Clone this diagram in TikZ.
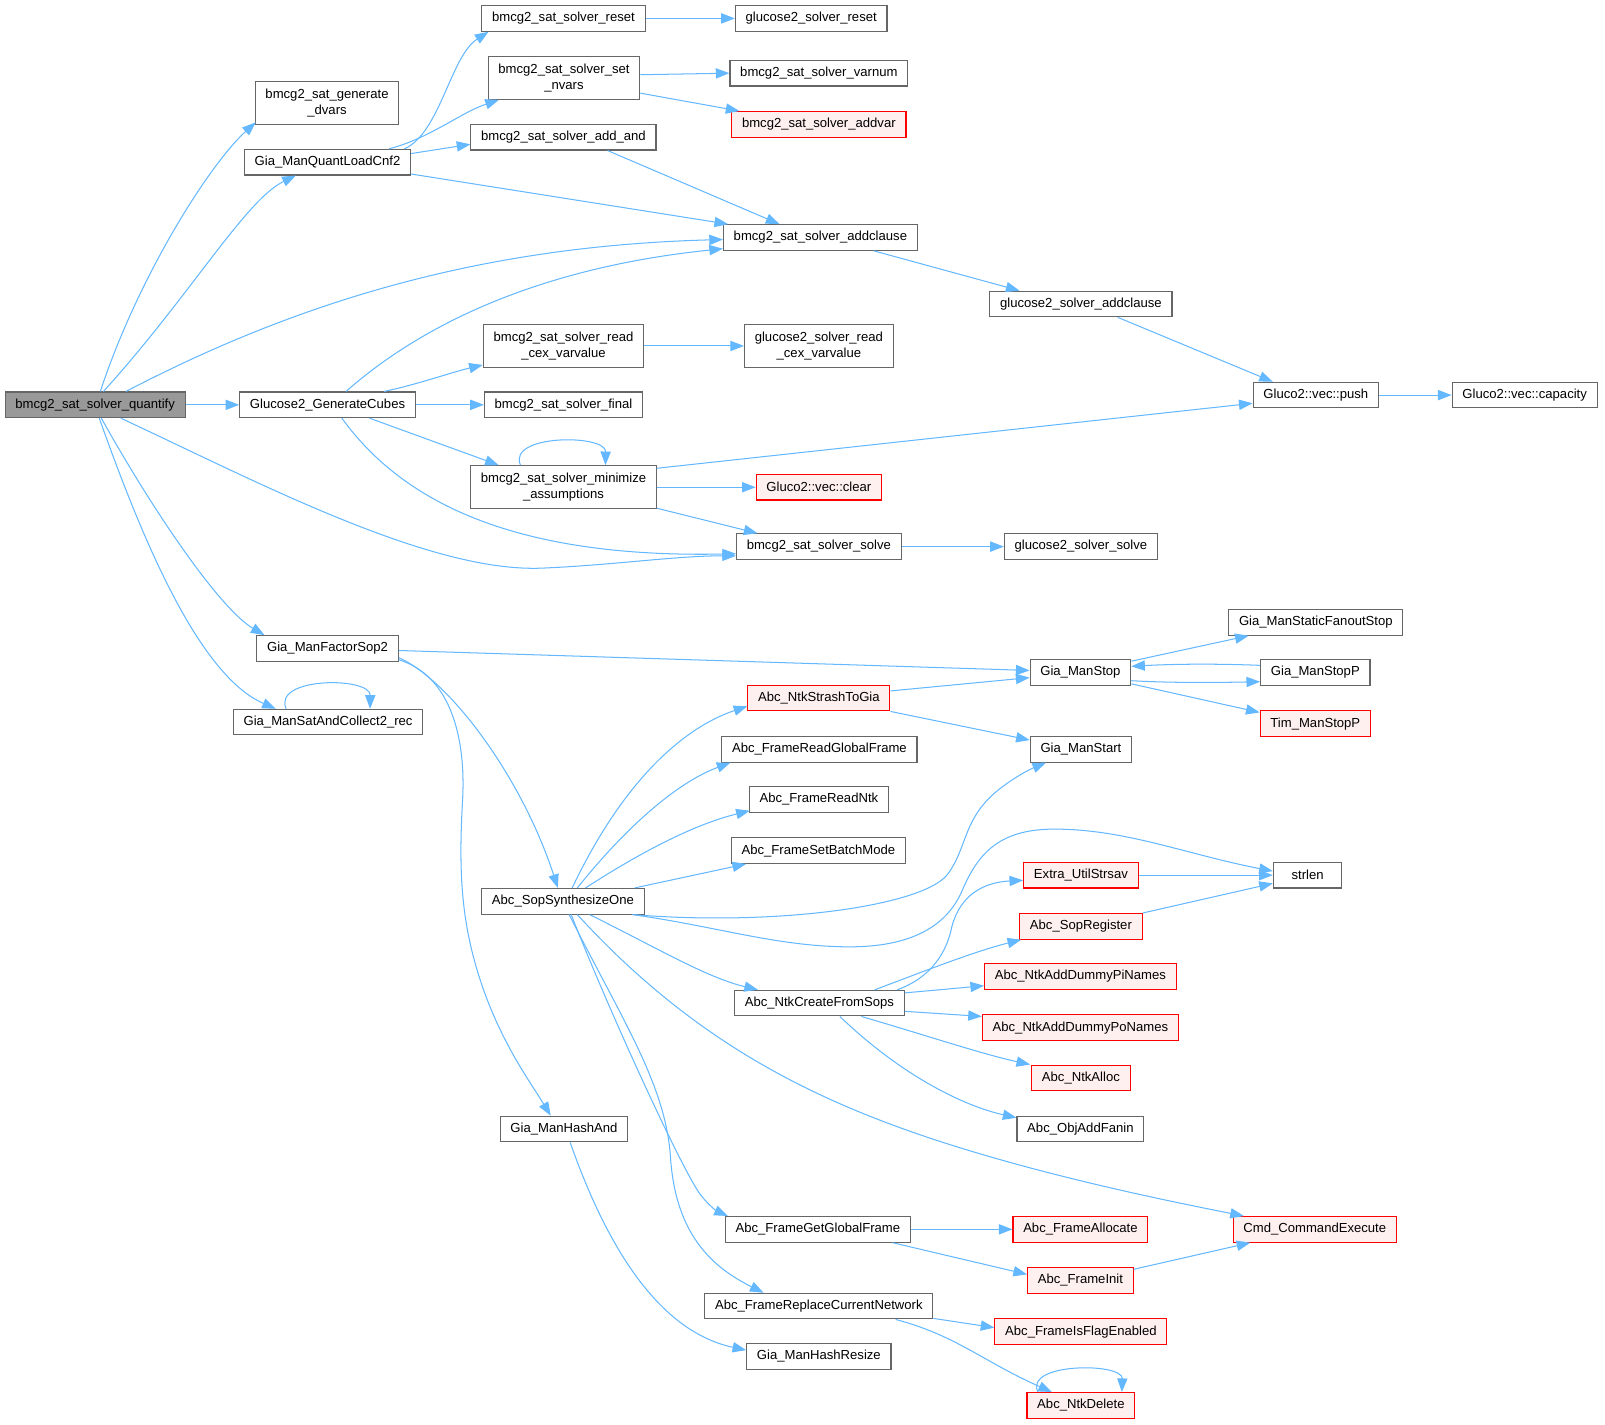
\documentclass[tikz,border=0pt]{standalone}
\usepackage{fontspec}
\setmainfont{Liberation Sans}
\usetikzlibrary{arrows.meta,calc}
\definecolor{edgeblue}{HTML}{63B8FF}
\definecolor{boxgray}{HTML}{666666}
\definecolor{rootfill}{HTML}{999999}
\definecolor{redfill}{HTML}{FFF0F0}
\definecolor{redline}{HTML}{FF0000}
\begin{document}
\begin{tikzpicture}[x=0.75pt,y=-0.75pt,
  box/.style={draw=boxgray, line width=0.8pt, fill=white, rectangle,
    font=\fontsize{9.6pt}{11.5pt}\selectfont, inner xsep=7.5pt, inner ysep=2pt,
    minimum height=18.75pt, minimum width=50.25pt, align=center},
  two/.style={minimum height=31.5pt},
  redbox/.style={box, draw=redline, fill=redfill},
  rootbox/.style={box, fill=rootfill},
  edge/.style={draw=edgeblue, line width=0.75pt, -{Triangle[length=10pt,width=7.5pt]}}]
\fill[white] (0,0) rectangle (1568,1392);
\useasboundingbox (0,0) rectangle (1568,1392);

% nodes
\node[rootbox] (q) at (93,395.5) {bmcg2\_sat\_solver\_quantify};
\node[box,two] (gdv) at (319.5,101) {bmcg2\_sat\_generate\\\_dvars};
\node[box] (qlc) at (320,158.5) {Gia\_ManQuantLoadCnf2};
\node[box] (rst) at (550.5,18) {bmcg2\_sat\_solver\_reset};
\node[box,two] (snv) at (551,76) {bmcg2\_sat\_solver\_set\\\_nvars};
\node[box] (aand) at (550.5,134) {bmcg2\_sat\_solver\_add\_and};
\node[box] (grst) at (792.5,18) {glucose2\_solver\_reset};
\node[box] (vnum) at (800,71.5) {bmcg2\_sat\_solver\_varnum};
\node[redbox] (avar) at (800,121.5) {bmcg2\_sat\_solver\_addvar};
\node[box] (acl) at (801.5,232) {bmcg2\_sat\_solver\_addclause};
\node[box] (gacl) at (1056,297) {glucose2\_solver\_addclause};
\node[box,two] (rcex) at (550.5,338) {bmcg2\_sat\_solver\_read\\\_cex\_varvalue};
\node[box,two] (grcex) at (800,338) {glucose2\_solver\_read\\\_cex\_varvalue};
\node[box] (gc) at (320,395.5) {Glucose2\_GenerateCubes};
\node[box] (fin) at (550.5,395.5) {bmcg2\_sat\_solver\_final};
\node[box] (push) at (1285.5,386) {Gluco2::vec::push};
\node[box] (cap) at (1489.5,386) {Gluco2::vec::capacity};
\node[box,two] (mina) at (550.5,476) {bmcg2\_sat\_solver\_minimize\\\_assumptions};
\node[redbox] (clr) at (800,476) {Gluco2::vec::clear};
\node[box] (solve) at (800,534) {bmcg2\_sat\_solver\_solve};
\node[box] (gsolve) at (1056,534) {glucose2\_solver\_solve};
\node[box] (fsop) at (320,633.5) {Gia\_ManFactorSop2};
\node[box] (sac) at (320.5,705.5) {Gia\_ManSatAndCollect2\_rec};
\node[box] (sfs) at (1285.5,608) {Gia\_ManStaticFanoutStop};
\node[box] (mstop) at (1055.5,657) {Gia\_ManStop};
\node[box] (mstopp) at (1285,657) {Gia\_ManStopP};
\node[redbox] (tim) at (1285,707) {Tim\_ManStopP};
\node[redbox] (strash) at (800,682) {Abc\_NtkStrashToGia};
\node[box] (mstart) at (1056,732) {Gia\_ManStart};
\node[box] (rgf) at (800.5,732) {Abc\_FrameReadGlobalFrame};
\node[box] (rntk) at (800,781) {Abc\_FrameReadNtk};
\node[box] (sbm) at (799.5,831) {Abc\_FrameSetBatchMode};
\node[box] (sop) at (550,880.5) {Abc\_SopSynthesizeOne};
\node[box] (strlen) at (1277.5,855) {strlen};
\node[redbox] (strsav) at (1056,855) {Extra\_UtilStrsav};
\node[redbox] (sreg) at (1056,905) {Abc\_SopRegister};
\node[redbox] (dpi) at (1055.5,954) {Abc\_NtkAddDummyPiNames};
\node[redbox] (dpo) at (1055.5,1004) {Abc\_NtkAddDummyPoNames};
\node[box] (cfs) at (800.5,980) {Abc\_NtkCreateFromSops};
\node[redbox] (nalloc) at (1056,1053) {Abc\_NtkAlloc};
\node[box] (fanin) at (1055.5,1103) {Abc\_ObjAddFanin};
\node[box] (hand) at (551,1103) {Gia\_ManHashAnd};
\node[box] (ggf) at (799,1201) {Abc\_FrameGetGlobalFrame};
\node[redbox] (falloc) at (1055.5,1201) {Abc\_FrameAllocate};
\node[redbox] (cmd) at (1284.5,1201) {Cmd\_CommandExecute};
\node[redbox] (finit) at (1055.5,1251) {Abc\_FrameInit};
\node[box] (rcn) at (800,1276) {Abc\_FrameReplaceCurrentNetwork};
\node[redbox] (iflag) at (1056,1301) {Abc\_FrameIsFlagEnabled};
\node[box] (hres) at (800,1325) {Gia\_ManHashResize};
\node[redbox] (ndel) at (1056,1373) {Abc\_NtkDelete};

% edges from quantify
\draw[edge] ($(q.north)+(5,0)$) .. controls (135,270) and (205,160) .. ($(gdv.south west)+(1,-3)$);
\draw[edge] ($(q.north)+(8,0)$) .. controls (185,290) and (240,195) .. ($(qlc.south)+(-31,0)$);
\draw[edge] ($(q.north)+(30,0)$) .. controls (300,290) and (480,240) .. ($(acl.west)+(0,2)$);
\draw[edge] (q.east) -- (gc.west);
\draw[edge] ($(q.south)+(25,0)$) .. controls (250,470) and (420,560) .. (530,555) .. controls (600,552) and (660,543) .. ($(solve.west)+(0,9)$);
\draw[edge] ($(q.south)+(6,0)$) .. controls (150,500) and (215,595) .. ($(fsop.north west)+(8,0)$);
\draw[edge] ($(q.south)+(4,0)$) .. controls (140,530) and (195,660) .. ($(sac.north west)+(42,0)$);

% Gia_ManQuantLoadCnf2
\draw[edge] ($(qlc.north)+(75,0)$) .. controls (430,130) and (440,55) .. ($(rst.south west)+(7,0)$);
\draw[edge] ($(qlc.north)+(60,0)$) .. controls (420,135) and (450,110) .. ($(snv.south west)+(11,0)$);
\draw[edge] ($(qlc.east)+(0,-8.5)$) -- ($(aand.west)+(0,7)$);
\draw[edge] ($(qlc.east)+(0,11.5)$) -- ($(acl.north west)+(5,0)$);

\draw[edge] (rst.east) -- (grst.west);
\draw[edge] ($(snv.east)+(0,-3)$) -- (vnum.west);
\draw[edge] ($(snv.east)+(0,15)$) -- ($(avar.north west)+(8,0)$);
\draw[edge] ($(aand.south)+(43,0)$) -- ($(acl.north)+(-40,0)$);
\draw[edge] ($(acl.south)+(52,0)$) -- ($(gacl.north)+(-60,0)$);
\draw[edge] ($(gacl.south)+(36,0)$) -- ($(push.north)+(-42,0)$);
\draw[edge] (push.east) -- (cap.west);

% Glucose2_GenerateCubes
\draw[edge] ($(gc.north)+(18,0)$) .. controls (420,310) and (540,260) .. ($(acl.west)+(0,11)$);
\draw[edge] ($(gc.north)+(55,0)$) .. controls (410,375) and (440,364) .. ($(rcex.south west)+(0,-3)$);
\draw[edge] (gc.east) -- (fin.west);
\draw[edge] ($(gc.south)+(41,0)$) -- ($(mina.north west)+(28,0)$);
\draw[edge] ($(gc.south)+(14,0)$) .. controls (400,500) and (520,545) .. ($(solve.west)+(0,7)$);

\draw[edge] (rcex.east) -- (grcex.west);
\draw[edge] ($(mina.north)+(-42,0)$) .. controls (495,424) and (592,424) .. ($(mina.north)+(41,0)$);
\draw[edge] ($(mina.north east)+(0,3)$) -- ($(push.west)+(0,8)$);
\draw[edge] (mina.east) -- (clr.west);
\draw[edge] ($(mina.south east)+(0,-1)$) -- ($(solve.north west)+(21,0)$);
\draw[edge] (solve.east) -- (gsolve.west);

% Gia_ManFactorSop2
\draw[edge] ($(fsop.east)+(0,2)$) -- ($(mstop.west)+(0,-2)$);
\draw[edge] ($(fsop.east)+(0,9)$) .. controls (440,665) and (510,760) .. ($(sop.north)+(-5,0)$);
\draw[edge] ($(fsop.east)+(0,11)$) .. controls (440,660) and (455,720) .. (452,780) .. controls (448,850) and (450,900) .. (470,960) .. controls (490,1020) and (520,1060) .. ($(hand.north)+(-13,0)$);
\draw[edge] ($(sac.north)+(-41,0)$) .. controls (266,661) and (362,661) .. ($(sac.north)+(41,0)$);

% Gia_ManStop
\draw[edge] ($(mstop.north east)+(0,2)$) -- ($(sfs.south west)+(20,0)$);
\draw[edge] ($(mstop.east)+(0,8)$) .. controls (1140,667) and (1180,667) .. ($(mstopp.west)+(0,9)$);
\draw[edge] ($(mstopp.west)+(0,-7)$) .. controls (1180,648) and (1140,649) .. ($(mstop.east)+(0,-6)$);
\draw[edge] ($(mstop.south east)+(0,-2)$) -- ($(tim.west)+(0,-11)$);

\draw[edge] ($(strash.east)+(0,-7)$) -- ($(mstop.west)+(0,5)$);
\draw[edge] (strash.south east) -- ($(mstart.west)+(0,-9)$);

% Abc_SopSynthesizeOne
\draw[edge] ($(sop.north)+(9,0)$) .. controls (610,760) and (670,710) .. ($(strash.west)+(0,8)$);
\draw[edge] ($(sop.north)+(14,0)$) .. controls (610,810) and (660,765) .. ($(rgf.south west)+(9,0)$);
\draw[edge] ($(sop.north)+(22,0)$) .. controls (630,830) and (680,805) .. ($(rntk.south west)+(1,-2)$);
\draw[edge] ($(sop.north)+(70,0)$) -- ($(sbm.south west)+(15,0)$);
\draw[edge] ($(sop.south)+(68,0)$) .. controls (760,905) and (900,885) .. (925,855) .. controls (945,830) and (940,800) .. (975,772) .. controls (990,760) and (1005,752) .. ($(mstart.south west)+(16,0)$);
\draw[edge] ($(sop.south)+(68,0)$) .. controls (700,905) and (760,925) .. (830,925) .. controls (890,925) and (925,905) .. (940,870) .. controls (955,835) and (975,810) .. (1030,810) .. controls (1100,810) and (1160,835) .. ($(strlen.west)+(0,-4)$);
\draw[edge] ($(sop.south)+(26,0)$) .. controls (640,925) and (690,955) .. ($(cfs.north)+(-60,0)$);
\draw[edge] ($(sop.south)+(14,0)$) .. controls (680,1020) and (800,1080) .. (950,1125) .. controls (1050,1155) and (1150,1175) .. ($(cmd.north west)+(11,0)$);
\draw[edge] ($(sop.south)+(8,0)$) .. controls (600,1000) and (670,1150) .. (685,1168) .. controls (692,1177) and (700,1183) .. ($(ggf.north west)+(3,0)$);
\draw[edge] ($(sop.south)+(6,0)$) .. controls (610,1000) and (650,1060) .. (655,1130) .. controls (660,1210) and (700,1240) .. ($(rcn.north)+(-54,0)$);

% Abc_NtkCreateFromSops
\draw[edge] ($(cfs.north)+(76,0)$) .. controls (910,955) and (925,930) .. (930,905) .. controls (938,875) and (960,862) .. ($(strsav.west)+(0,5)$);
\draw[edge] ($(cfs.north)+(54,0)$) .. controls (900,950) and (950,930) .. ($(sreg.south west)+(2,0)$);
\draw[edge] ($(cfs.east)+(0,-10)$) -- ($(dpi.west)+(0,9)$);
\draw[edge] ($(cfs.east)+(0,8)$) -- ($(dpo.west)+(0,-11)$);
\draw[edge] ($(cfs.south)+(41,0)$) .. controls (900,1010) and (960,1030) .. ($(nalloc.north west)+(-1,0)$);
\draw[edge] ($(cfs.south)+(20,0)$) .. controls (880,1050) and (940,1080) .. ($(fanin.west)+(0,-11)$);

\draw[edge] (strsav.east) -- (strlen.west);
\draw[edge] (sreg.north east) -- ($(strlen.west)+(0,8)$);

\draw[edge] ($(hand.south)+(6,0)$) .. controls (590,1210) and (640,1300) .. ($(hres.west)+(0,-6)$);
\draw[edge] (ggf.east) -- (falloc.west);
\draw[edge] ($(ggf.south)+(73,0)$) -- ($(finit.west)+(0,-6)$);
\draw[edge] ($(finit.east)+(0,-11)$) -- ($(cmd.south)+(-63,0)$);
\draw[edge] ($(rcn.east)+(0,12)$) -- ($(iflag.west)+(0,-4)$);
\draw[edge] ($(rcn.south)+(75,0)$) .. controls (935,1305) and (960,1330) .. ($(ndel.north west)+(25,0)$);
\draw[edge] ($(ndel.north)+(-42,0)$) .. controls (1000,1331) and (1097,1331) .. ($(ndel.north)+(40,0)$);
\end{tikzpicture}
\end{document}
